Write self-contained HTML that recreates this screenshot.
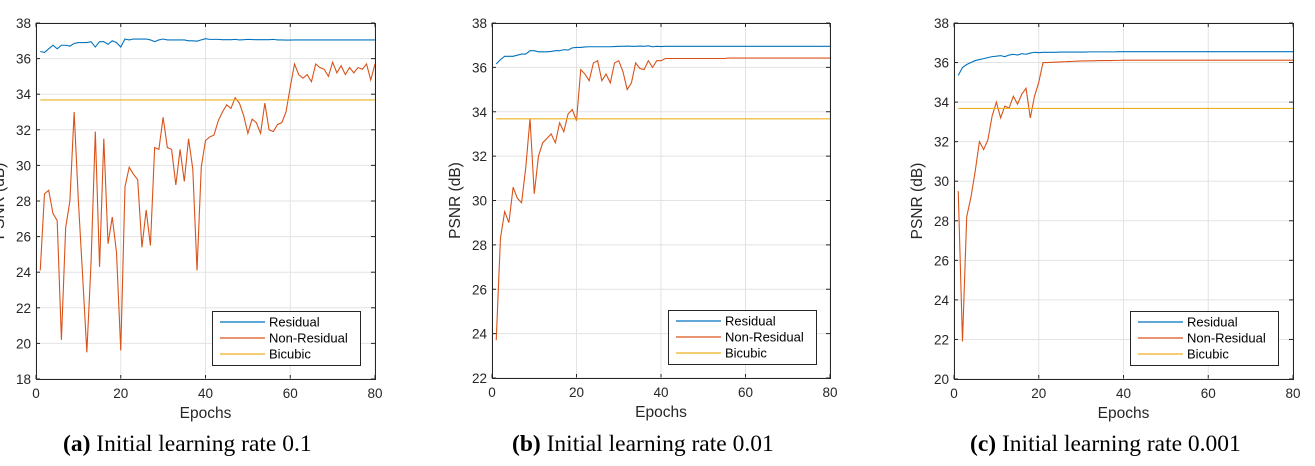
<!DOCTYPE html>
<html><head><meta charset="utf-8">
<style>
html,body{margin:0;padding:0;background:#fff;}
body{width:1315px;height:466px;overflow:hidden;position:relative;font-family:"Liberation Sans",sans-serif;}
svg{position:absolute;left:0;top:0;}
.cap{position:absolute;top:431px;font-family:"Liberation Serif",serif;font-size:23.5px;color:#000;white-space:nowrap;}
</style></head>
<body>
<svg id="chart" width="1315" height="466" viewBox="0 0 1315 466"></svg>
<div class="cap" style="left:63px;"><b>(a)</b> Initial learning rate 0.1</div>
<div class="cap" style="left:512px;"><b>(b)</b> Initial learning rate 0.01</div>
<div class="cap" style="left:970px;"><b>(c)</b> Initial learning rate 0.001</div>
<script>
const xTicks=[0,20,40,60,80];
const seriesNames=["Residual","Non-Residual","Bicubic"];
const bicubicValue=33.68;

const residualA=[36.4,36.35,36.55,36.75,36.55,36.75,36.75,36.7,36.85,36.9,36.9,36.9,36.95,36.65,36.95,36.95,36.8,37.0,36.9,36.65,37.1,37.05,37.1,37.1,37.1,37.1,37.05,36.95,37.05,37.1,37.05,37.05,37.05,37.05,37.05,37.0,37.0,36.98,37.05,37.12,37.08,37.08,37.08,37.06,37.06,37.06,37.08,37.05,37.06,37.08,37.07,37.06,37.06,37.06,37.06,37.08,37.05,37.05,37.04,37.04,37.05,37.05,37.05,37.05,37.05,37.05,37.05,37.05,37.05,37.05,37.05,37.05,37.05,37.05,37.05,37.05,37.05,37.05,37.05,37.05];
const nonResidualA=[24.1,28.4,28.6,27.3,26.9,20.2,26.5,28,33,28,23.8,19.5,24.6,31.9,24.3,31.5,25.6,27.1,25.1,19.6,28.8,29.9,29.5,29.2,25.4,27.5,25.5,31,30.9,32.7,31,30.9,28.9,30.9,29.1,31.5,29.8,24.1,29.9,31.4,31.6,31.7,32.5,33,33.4,33.2,33.8,33.5,32.8,31.8,32.6,32.4,31.8,33.5,32,31.9,32.3,32.4,33,34.4,35.7,35.1,34.9,35.1,34.7,35.7,35.5,35.4,35,35.8,35.2,35.6,35.1,35.5,35.2,35.5,35.4,35.7,34.8,35.7];
const residualB=[36.15,36.35,36.5,36.5,36.5,36.55,36.6,36.6,36.75,36.75,36.7,36.7,36.7,36.72,36.75,36.75,36.8,36.78,36.88,36.9,36.9,36.92,36.93,36.93,36.93,36.93,36.93,36.93,36.94,36.95,36.95,36.96,36.95,36.95,36.96,36.95,36.97,36.93,36.95,36.94,36.95,36.95,36.95,36.95,36.95,36.95,36.95,36.95,36.95,36.95,36.95,36.95,36.95,36.95,36.95,36.95,36.95,36.95,36.95,36.95,36.95,36.95,36.95,36.95,36.95,36.95,36.95,36.95,36.95,36.95,36.95,36.95,36.95,36.95,36.95,36.95,36.95,36.95,36.95,36.95];
const nonResidualB=[23.7,28.3,29.5,29,30.6,30.1,29.9,31.5,33.7,30.3,32,32.6,32.8,33,32.6,33.5,33.1,33.9,34.1,33.6,35.9,35.7,35.4,36.2,36.3,35.4,35.7,35.3,36.2,36.3,35.8,35,35.3,36.2,35.95,35.9,36.3,36,36.3,36.3,36.4,36.4,36.4,36.4,36.4,36.4,36.4,36.4,36.4,36.4,36.4,36.4,36.4,36.4,36.4,36.42,36.42,36.42,36.42,36.42,36.42,36.42,36.42,36.42,36.42,36.42,36.42,36.42,36.42,36.42,36.42,36.42,36.42,36.42,36.42,36.42,36.42,36.42,36.42,36.42];
const residualC=[35.35,35.75,35.9,36.0,36.1,36.15,36.2,36.25,36.3,36.32,36.35,36.3,36.38,36.42,36.38,36.45,36.42,36.48,36.52,36.5,36.52,36.52,36.52,36.52,36.53,36.53,36.53,36.53,36.53,36.53,36.53,36.54,36.54,36.54,36.54,36.54,36.54,36.54,36.55,36.55,36.55,36.55,36.55,36.55,36.55,36.55,36.55,36.55,36.55,36.55,36.55,36.55,36.55,36.55,36.55,36.55,36.55,36.55,36.55,36.55,36.55,36.55,36.55,36.55,36.55,36.55,36.55,36.55,36.55,36.55,36.55,36.55,36.55,36.55,36.55,36.55,36.55,36.55,36.55,36.55];
const nonResidualC=[29.5,21.9,28.2,29.2,30.5,32.0,31.6,32.1,33.3,34,33.2,33.8,33.7,34.3,33.9,34.4,34.7,33.2,34.3,35,36,36,36.01,36.02,36.03,36.04,36.05,36.06,36.07,36.08,36.08,36.09,36.09,36.1,36.1,36.1,36.1,36.11,36.11,36.12,36.12,36.12,36.12,36.12,36.12,36.12,36.12,36.12,36.12,36.12,36.12,36.12,36.12,36.12,36.12,36.12,36.12,36.12,36.12,36.12,36.12,36.12,36.12,36.12,36.12,36.12,36.12,36.12,36.12,36.12,36.12,36.12,36.12,36.12,36.12,36.12,36.12,36.12,36.12,36.12];
const yTicksA=[18,20,22,24,26,28,30,32,34,36,38];
const yTicksB=[22,24,26,28,30,32,34,36,38];
const yTicksC=[20,22,24,26,28,30,32,34,36,38];

const NS="http://www.w3.org/2000/svg";
const svg=document.getElementById('chart');
const COLORS=["#0072BD","#D95319","#EDB120"];
function mk(tag,attrs,parent){const e=document.createElementNS(NS,tag);for(const k in attrs)e.setAttribute(k,attrs[k]);(parent||svg).appendChild(e);return e;}

function panel(id,L,R,T,B,yTicks,res,non,leg,ylx){
  const g=mk('g',{});
  
  
  const y0=yTicks[0],y1=yTicks[yTicks.length-1];
  const sx=v=>L+(v-0)/(80-0)*(R-L);
  const sy=v=>B-(v-y0)/(y1-y0)*(B-T);
  mk('rect',{x:L,y:T,width:R-L,height:B-T,fill:'#fff'},g);
  xTicks.forEach(t=>{
    const l=mk('line',{x1:sx(t),x2:sx(t),y1:T,y2:B,stroke:'#e3e3e3','stroke-width':1},g);
    
    
    const tx=mk('text',{x:sx(t),y:B+19,'text-anchor':'middle','font-size':13.5,fill:'#262626'},g);
    tx.textContent=t;
    
    
    mk('line',{x1:sx(t),x2:sx(t),y1:B,y2:B-4,stroke:'#262626'},g);
    mk('line',{x1:sx(t),x2:sx(t),y1:T,y2:T+4,stroke:'#262626'},g);
  });
  yTicks.forEach(t=>{
    const l=mk('line',{x1:L,x2:R,y1:sy(t),y2:sy(t),stroke:'#e3e3e3','stroke-width':1},g);
    
    
    const tx=mk('text',{x:L-5,y:sy(t)+5,'text-anchor':'end','font-size':13.5,fill:'#262626'},g);
    tx.textContent=t;
    
    
    mk('line',{x1:L,x2:L+4,y1:sy(t),y2:sy(t),stroke:'#262626'},g);
    mk('line',{x1:R,x2:R-4,y1:sy(t),y2:sy(t),stroke:'#262626'},g);
  });
  const series=[res,non];
  series.forEach((arr,i)=>{
    const pts=arr.map((v,k)=>sx(k+1).toFixed(2)+','+sy(v).toFixed(2)).join(' ');
    const p=mk('polyline',{points:pts,fill:'none',stroke:COLORS[i],'stroke-width':1.1},g);
    
    
  });
  const bl=mk('line',{x1:sx(1),x2:sx(80),y1:sy(bicubicValue),y2:sy(bicubicValue),stroke:COLORS[2],'stroke-width':1.1},g);
  
  
  const box=mk('rect',{x:L+0.5,y:T+0.5,width:R-L,height:B-T,fill:'none',stroke:'#262626','stroke-width':1},g);
  
  
  const xl=mk('text',{x:(L+R)/2,y:B+39,'text-anchor':'middle','font-size':15.5,fill:'#262626'},g);
  xl.textContent='Epochs';
  
  
  const yl=mk('text',{x:0,y:0,'text-anchor':'middle','font-size':15.5,fill:'#262626',transform:`translate(${ylx},${(T+B)/2}) rotate(-90)`},g);
  yl.textContent='PSNR (dB)';
  
  
  const lg=mk('g',{},g);
  
  
  mk('rect',{x:leg[0]+0.5,y:leg[1]+0.5,width:148,height:54,fill:'#fff',stroke:'#262626','stroke-width':1},lg);
  seriesNames.forEach((n,i)=>{
    const yy=leg[1]+11+i*16;
    mk('line',{x1:leg[0]+8,x2:leg[0]+53,y1:yy,y2:yy,stroke:COLORS[i],'stroke-width':1.2},lg);
    const t=mk('text',{x:leg[0]+57,y:yy+4.5,'font-size':13,fill:'#000'},lg);
    t.textContent=n;
    
    
  });
}
panel('a',36,375,23,379,yTicksA,residualA,nonResidualA,[212,311],4);
panel('b',492,830,23,378,yTicksB,residualB,nonResidualB,[668,310],460);
panel('c',954,1293,23,379,yTicksC,residualC,nonResidualC,[1130,311],922);
</script>
</body></html>
